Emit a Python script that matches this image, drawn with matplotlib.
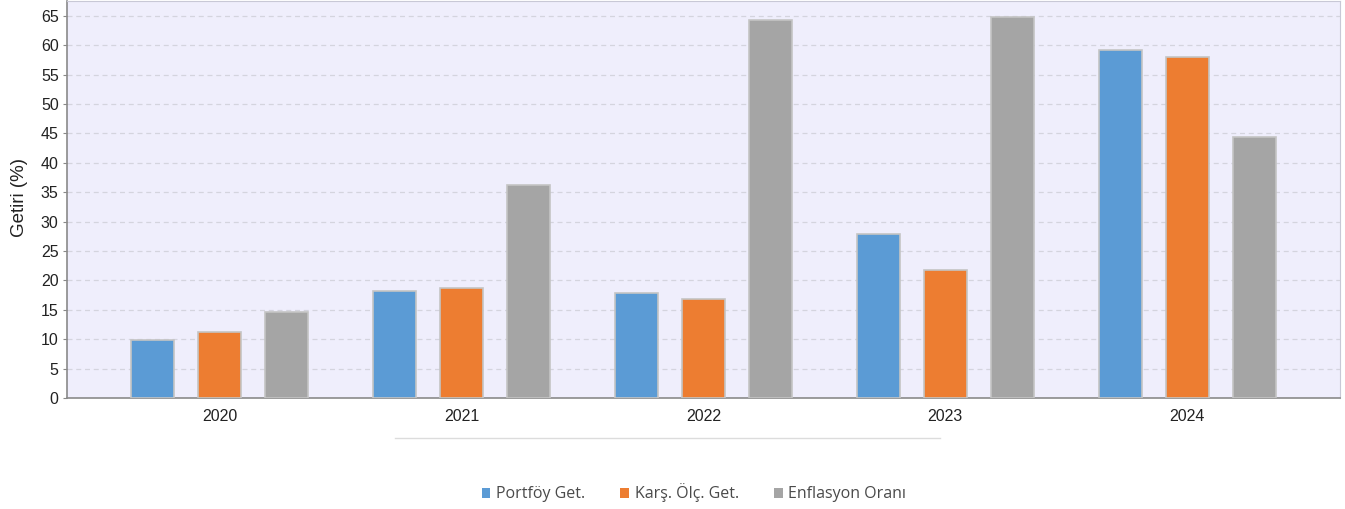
import numpy as np
import matplotlib.pyplot as plt
from matplotlib.lines import Line2D
from matplotlib.patches import Patch

years = ["2020", "2021", "2022", "2023", "2024"]
portfoy = [9.9, 18.2, 17.8, 27.8, 59.2]
karsilastirma = [11.2, 18.7, 16.8, 21.8, 57.9]
enflasyon = [14.6, 36.2, 64.3, 64.8, 44.4]

series_names = ["Portföy Get.", "Karş. Ölç. Get.", "Enflasyon Oranı"]
colors = ["#5B9BD5", "#ED7D31", "#A5A5A5"]

plt.rcParams["font.family"] = ["Liberation Sans", "DejaVu Sans"]

fig = plt.figure(figsize=(13.45, 5.09), dpi=100)
ax = fig.add_axes([67 / 1345, 1 - 398 / 509, 1273 / 1345, 397 / 509])
ax.set_facecolor("#EFEEFC")

x = np.arange(len(years))
width = 0.178
offset = 0.277
for i, (vals, color) in enumerate(zip([portfoy, karsilastirma, enflasyon], colors)):
    ax.bar(x + (i - 1) * offset, vals, width, color=color,
           edgecolor="#C4C4C4", linewidth=1.2, zorder=3)

ax.set_xlim(-0.632, 4.632)
ax.set_ylim(0, 67.5)
ax.set_yticks(range(0, 70, 5))
ax.set_xticks(x)
ax.set_xticklabels(years)
ax.tick_params(axis="y", labelsize=11.5, length=3, color="#888888", pad=3,
               labelcolor="#222222")
ax.tick_params(axis="x", labelsize=11.5, length=0, pad=8, labelcolor="#222222")
ax.yaxis.grid(True, linestyle=(0, (4, 3)), color="#D4D4DE", linewidth=0.9, zorder=0)
ax.set_ylabel("Getiri (%)", fontsize=13.5, color="#222222")
ax.yaxis.set_label_coords(-0.031, 0.504)

for side in ["top", "right"]:
    ax.spines[side].set_color("#C8C8D6")
for side in ["left", "bottom"]:
    ax.spines[side].set_color("#8A8A8A")
    ax.spines[side].set_linewidth(1.2)

fig.add_artist(Line2D([395 / 1345, 940 / 1345], [1 - 438 / 509, 1 - 438 / 509],
                      color="#DCDCDC", linewidth=1))

handles = [Patch(facecolor=c, edgecolor="none") for c in colors]
leg = fig.legend(handles, series_names, loc="center", bbox_to_anchor=(0.516, 1 - 493 / 509),
                 ncol=3, frameon=False, handlelength=0.55, handleheight=0.55,
                 handletextpad=0.35, columnspacing=2.2,
                 prop={"family": "Open Sans", "size": 11.5})
for t in leg.get_texts():
    t.set_color("#4A4A4A")

fig.savefig("out.png", dpi=100)
